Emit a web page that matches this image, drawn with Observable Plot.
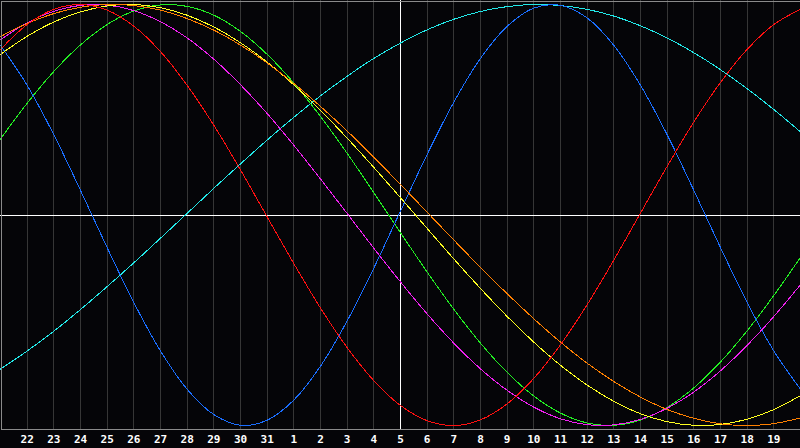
<!DOCTYPE html>
<html><head><meta charset="utf-8">
<script src="https://cdn.jsdelivr.net/npm/d3@7"></script>
<script src="https://cdn.jsdelivr.net/npm/@observablehq/plot@0.6"></script>
<style>
html,body{margin:0;padding:0;background:#050508;}
#chart{width:800px;height:448px;}
</style></head><body><div id="chart"></div>
<script>
// Day labels for day index 0..30 (21st of one month to 20th of the next)
const dayLabels = ["21","22","23","24","25","26","27","28","29","30","31","1","2","3","4","5","6","7","8","9","10","11","12","13","14","15","16","17","18","19","20"];
const tickDays = [1,2,3,4,5,6,7,8,9,10,11,12,13,14,15,16,17,18,19,20,21,22,23,24,25,26,27,28,29];
const todayIndex = [15];
const zeroLevel = [0];

// Values per day, one array per curve
const physical = [0.806,0.616,0.381,0.117,-0.155,-0.416,-0.646,-0.828,-0.948,-0.999,-0.975,-0.879,-0.718,-0.503,-0.252,0.019,0.288,0.536,0.744,0.896,0.983,0.996,0.936,0.806,0.616,0.381,0.117,-0.155,-0.416,-0.646,-0.828];
const emotional = [0.787,0.905,0.977,1.000,0.973,0.897,0.776,0.616,0.426,0.214,-0.009,-0.231,-0.442,-0.630,-0.787,-0.905,-0.977,-1.000,-0.973,-0.897,-0.776,-0.616,-0.426,-0.214,0.009,0.231,0.442,0.630,0.787,0.905,0.977];
const spiritual = [-0.732,-0.646,-0.552,-0.449,-0.340,-0.227,-0.110,0.008,0.127,0.243,0.356,0.464,0.566,0.659,0.744,0.817,0.880,0.930,0.967,0.990,1.000,0.995,0.977,0.945,0.899,0.841,0.771,0.690,0.600,0.501,0.395];
const intellectual = [0.361,0.531,0.682,0.808,0.905,0.969,0.998,0.991,0.949,0.872,0.763,0.627,0.468,0.293,0.106,-0.084,-0.271,-0.448,-0.609,-0.748,-0.860,-0.941,-0.988,-0.999,-0.974,-0.914,-0.821,-0.698,-0.550,-0.382,-0.201];
const intuitive = [0.833,0.913,0.968,0.996,0.997,0.971,0.918,0.841,0.740,0.619,0.482,0.331,0.171,0.007,-0.158,-0.318,-0.470,-0.609,-0.731,-0.833,-0.913,-0.968,-0.996,-0.997,-0.971,-0.918,-0.841,-0.740,-0.619,-0.482,-0.331];
const aesthetic = [0.763,0.849,0.917,0.965,0.993,1.000,0.985,0.949,0.893,0.818,0.726,0.618,0.497,0.365,0.226,0.082,-0.064,-0.209,-0.349,-0.482,-0.604,-0.714,-0.808,-0.885,-0.944,-0.982,-0.999,-0.995,-0.970,-0.924,-0.858];
const awareness = [0.848,0.910,0.957,0.987,1.000,0.995,0.973,0.933,0.878,0.807,0.722,0.625,0.516,0.399,0.274,0.145,0.013,-0.119,-0.249,-0.374,-0.493,-0.604,-0.704,-0.791,-0.865,-0.924,-0.966,-0.992,-1.000,-0.991,-0.964];

const seriesNames = ["Spiritual","Intellectual","Physical","Intuitive","Aesthetic","Awareness","Emotional"];
const seriesColors = ["#22e8e8","#22ee22","#1a6eff","#f020f0","#ffff20","#ff8000","#ff1010"];
const seriesValues = [spiritual, intellectual, physical, intuitive, aesthetic, awareness, emotional];

const rows = seriesNames.flatMap((name, k) => seriesValues[k].map((v, i) => ({day: i, v, name})));

const chart = Plot.plot({
  width: 800,
  height: 448,
  marginTop: 0,
  marginLeft: 0,
  marginRight: 0,
  marginBottom: 19,
  style: {background: "#050508", color: "#ffffff", fontFamily: "'DejaVu Sans Mono', monospace", fontSize: "11px", fontWeight: "bold"},
  x: {domain: [0, 30], ticks: tickDays, tickFormat: i => dayLabels[i], tickSize: 0, tickPadding: 6, label: null},
  y: {domain: [-1.019, 1.019], axis: null},
  color: {type: "ordinal", domain: seriesNames, range: seriesColors},
  marks: [
    Plot.ruleX(tickDays, {stroke: "#363636", strokeWidth: 1, shapeRendering: "crispEdges"}),
    Plot.ruleY(zeroLevel, {stroke: "#ffffff", strokeWidth: 1, shapeRendering: "crispEdges"}),
    Plot.ruleX(todayIndex, {stroke: "#ffffff", strokeWidth: 1, shapeRendering: "crispEdges"}),
    Plot.line(rows, {x: "day", y: "v", z: "name", stroke: "name", curve: "catmull-rom", strokeWidth: 1, shapeRendering: "crispEdges"}),
    Plot.frame({stroke: "#8a8a8a", inset: 0.5, shapeRendering: "crispEdges"})
  ]
});
document.getElementById("chart").appendChild(chart);
</script>
</body></html>
